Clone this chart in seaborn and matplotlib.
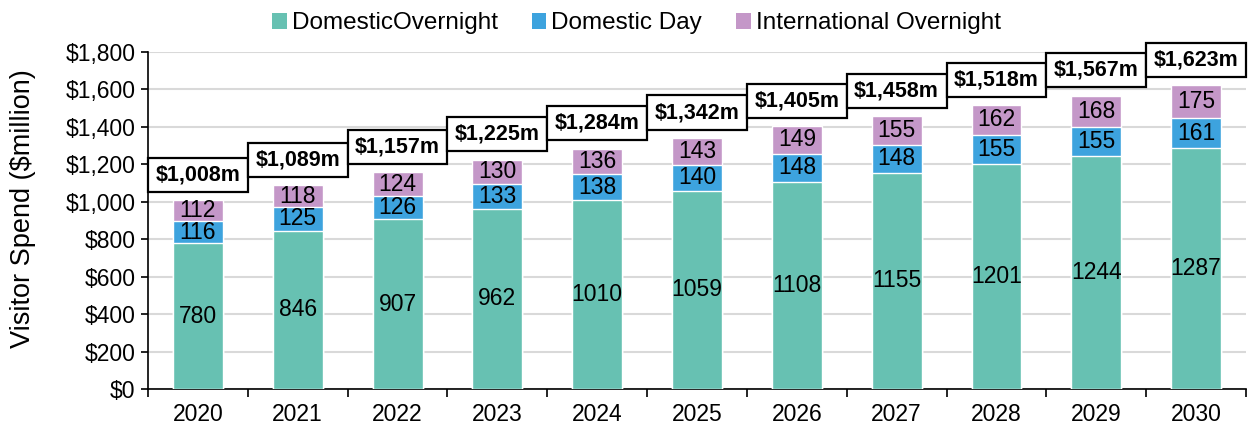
import numpy as np
import pandas as pd
import matplotlib
matplotlib.use("Agg")
import matplotlib.pyplot as plt
import matplotlib.patches as mpatches
from matplotlib.ticker import FuncFormatter
import seaborn as sns

# ── Data ──────────────────────────────────────────────────────────────────────
years = [2020, 2021, 2022, 2023, 2024, 2025, 2026, 2027, 2028, 2029, 2030]
domestic_overnight = [780, 846, 907, 962, 1010, 1059, 1108, 1155, 1201, 1244, 1287]
domestic_day = [116, 125, 126, 133, 138, 140, 148, 148, 155, 155, 161]
international_overnight = [112, 118, 124, 130, 136, 143, 149, 155, 162, 168, 175]
totals = [1008, 1089, 1157, 1225, 1284, 1342, 1405, 1458, 1518, 1567, 1623]

series_names = ["DomesticOvernight", "Domestic Day", "International Overnight"]
colors = ["#67C1B2", "#3DA3DE", "#C497C8"]

sns.set_theme(style="white")
plt.rcParams["font.family"] = ["Liberation Sans", "DejaVu Sans"]
plt.rcParams["text.color"] = "black"
plt.rcParams["xtick.color"] = "black"
plt.rcParams["ytick.color"] = "black"
plt.rcParams["axes.labelcolor"] = "black"

fig = plt.figure(figsize=(12.48, 4.30), dpi=100)
ax = fig.add_axes([0.1186, 0.0953, 0.8798, 0.7837])

df = pd.DataFrame({
    "year": [str(y) for y in years],
    "do": domestic_overnight,
    "dd": domestic_day,
    "io": international_overnight,
    "total": totals,
})

# ── Stacked bars (seaborn barplots drawn back-to-front on cumulative sums) ────
df["top_dd"] = df["do"] + df["dd"]
df["top_io"] = df["top_dd"] + df["io"]

sns.barplot(data=df, x="year", y="top_io", color=colors[2], width=0.5,
            saturation=1, ax=ax, zorder=2)
sns.barplot(data=df, x="year", y="top_dd", color=colors[1], width=0.5,
            saturation=1, ax=ax, zorder=3)
sns.barplot(data=df, x="year", y="do", color=colors[0], width=0.5,
            saturation=1, ax=ax, zorder=4)

# ── Segment labels ────────────────────────────────────────────────────────────
seg_fs = 16.5
for i, row in df.iterrows():
    ax.text(i, row["do"] / 2, f"{row['do']}", ha="center", va="center",
            fontsize=seg_fs, zorder=6)
    ax.text(i, row["do"] + row["dd"] / 2, f"{row['dd']}", ha="center",
            va="center", fontsize=seg_fs, zorder=6)
    ax.text(i, row["top_dd"] + row["io"] / 2, f"{row['io']}", ha="center",
            va="center", fontsize=seg_fs, zorder=6)

# ── Total label boxes ─────────────────────────────────────────────────────────
box_offset = 44
box_height = 182
boxes = ax.bar(range(len(years)), [box_height] * len(years),
               bottom=df["total"] + box_offset, width=1.0, facecolor="white",
               edgecolor="black", linewidth=1.6, zorder=7)
for b in boxes:
    b.set_clip_on(False)
for i, t in enumerate(totals):
    ax.text(i, t + box_offset + box_height / 2, f"${t:,}m", ha="center",
            va="center", fontsize=15.5, fontweight="bold", zorder=8)

# ── Axes styling ──────────────────────────────────────────────────────────────
ax.set_xlim(-0.5, len(years) - 0.5)
ax.set_ylim(0, 1800)
ax.set_yticks(np.arange(0, 1801, 200))
ax.yaxis.set_major_formatter(FuncFormatter(lambda v, p: f"${v:,.0f}"))
ax.grid(axis="y", color="#D9D9D9", linewidth=1.5, zorder=0)
ax.set_axisbelow(True)

ax.set_xticks(range(len(years)))
ax.set_xticklabels([str(y) for y in years])
ax.set_xticks(np.arange(-0.5, len(years), 1.0), minor=True)
ax.tick_params(axis="x", which="major", length=0, labelsize=16.5, pad=10)
ax.tick_params(axis="x", which="minor", length=6, width=1.2, color="black",
               direction="out", bottom=True)
ax.tick_params(axis="y", which="major", length=5, width=1.2, color="black",
               direction="out", left=True, labelsize=16.5, pad=4)

for s in ["top", "right"]:
    ax.spines[s].set_visible(False)
for s in ["left", "bottom"]:
    ax.spines[s].set_color("black")
    ax.spines[s].set_linewidth(1.2)

ax.set_xlabel("")
ax.set_ylabel("Visitor Spend ($million)", fontsize=19.5)
ax.yaxis.set_label_coords(-0.102, 0.534)

# ── Legend ────────────────────────────────────────────────────────────────────
handles = [mpatches.Patch(facecolor=c, edgecolor="none", label=n)
           for c, n in zip(colors, series_names)]
fig.legend(handles=handles, loc="upper center", bbox_to_anchor=(0.51, 1.022),
           ncol=3, frameon=False, fontsize=17.5, handlelength=0.6,
           handleheight=0.6, handletextpad=0.2, columnspacing=1.4)

fig.savefig("out.png", dpi=100)
